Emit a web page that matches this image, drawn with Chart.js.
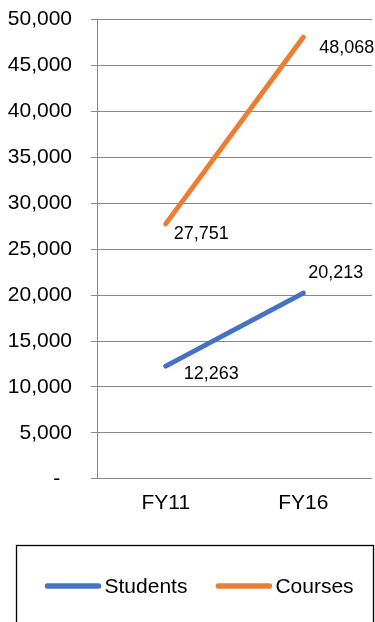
<!DOCTYPE html>
<html>
<head>
<meta charset="utf-8">
<script src="https://cdn.jsdelivr.net/npm/chart.js@4"></script>
<style>
    html, body { margin: 0; padding: 0; background: #fff; }
    #wrap { width: 375px; height: 622px; position: relative; }
</style>
</head>
<body>
<div id="wrap"><canvas id="chart"></canvas></div>
<script>
const years = ['FY11', 'FY16'];
const students = [12263, 20213];
const courses = [27751, 48068];
const yTicks = [0, 5000, 10000, 15000, 20000, 25000, 30000, 35000, 40000, 45000, 50000];
const yTickLabels = ['-\u2007', '5,000', '10,000', '15,000', '20,000', '25,000', '30,000', '35,000', '40,000', '45,000', '50,000'];

const fontFamily = '"Liberation Sans", Arial, sans-serif';

// where each value label sits next to its point (left edge dx, middle dy)
const labelOffsets = [
    [{dx: 18, dy: 8}, {dx: 5, dy: -20.5}],
    [{dx: 8, dy: 10}, {dx: 16, dy: 11}]
];

const valueLabels = {
    id: 'valueLabels',
    afterDatasetsDraw(chart) {
        const ctx = chart.ctx;
        ctx.save();
        ctx.font = '18px ' + fontFamily;
        ctx.fillStyle = '#000';
        ctx.textAlign = 'left';
        ctx.textBaseline = 'middle';
        chart.data.datasets.forEach(function(ds, i) {
            chart.getDatasetMeta(i).data.forEach(function(pt, j) {
                const off = labelOffsets[i][j];
                ctx.fillText(ds.data[j].toLocaleString('en-US'), pt.x + off.dx, pt.y + off.dy);
            });
        });
        ctx.restore();
    }
};

// framed legend under the chart
const boxedLegend = {
    id: 'boxedLegend',
    afterDraw(chart) {
        const ctx = chart.ctx;
        const boxLeft = 16.5;
        const boxTop = chart.height - 76.5;
        const boxRight = chart.width - 1.5;
        ctx.save();
        ctx.strokeStyle = '#000';
        ctx.lineWidth = 1.3;
        ctx.strokeRect(boxLeft, boxTop, boxRight - boxLeft, 100);

        ctx.font = '21px ' + fontFamily;
        ctx.textBaseline = 'middle';
        ctx.textAlign = 'left';
        let x = boxLeft + 28;
        const y = chart.height - 36;
        chart.data.datasets.forEach(function(ds) {
            ctx.strokeStyle = ds.borderColor;
            ctx.lineWidth = 5.5;
            ctx.lineCap = 'round';
            ctx.beginPath();
            ctx.moveTo(x + 3, y);
            ctx.lineTo(x + 54, y);
            ctx.stroke();
            ctx.fillStyle = '#000';
            ctx.fillText(ds.label, x + 60, y + 1);
            x += 60 + ctx.measureText(ds.label).width + 28;
        });
        ctx.restore();
    }
};

const ctx = document.getElementById('chart');
let chart = new Chart(ctx, {
    type: 'line',
    data: {
        labels: years,
        datasets: [
            {
                label: 'Students',
                data: students,
                borderColor: '#4472C4',
                backgroundColor: '#4472C4',
                borderWidth: 5,
                borderCapStyle: 'round',
                pointRadius: 0,
                pointHoverRadius: 0
            },
            {
                label: 'Courses',
                data: courses,
                borderColor: '#ED7D31',
                backgroundColor: '#ED7D31',
                borderWidth: 5,
                borderCapStyle: 'round',
                pointRadius: 0,
                pointHoverRadius: 0
            }
        ]
    },
    options: {
        responsive: true,
        maintainAspectRatio: false,
        animation: false,
        layout: {
            padding: {top: 19.5, right: 3, bottom: 94, left: 0}
        },
        plugins: {
            legend: {display: false},
            tooltip: {enabled: false}
        },
        scales: {
            x: {
                offset: true,
                grid: {display: false, drawTicks: false},
                border: {display: false},
                ticks: {
                    color: '#000',
                    padding: 12,
                    font: {family: fontFamily, size: 21}
                }
            },
            y: {
                min: 0,
                max: 50000,
                afterFit: function(scale) {
                    scale.width = 97;
                    scale.paddingTop = 0;
                    scale.paddingBottom = 0;
                },
                afterBuildTicks: function(scale) {
                    scale.ticks = yTicks.map(function(v) { return {value: v}; });
                },
                grid: {
                    color: '#888',
                    lineWidth: 1,
                    tickLength: 6
                },
                border: {display: true, color: '#888', width: 1},
                ticks: {
                    color: '#000',
                    padding: 19,
                    font: {family: fontFamily, size: 21},
                    callback: function(value) {
                        return yTickLabels[yTicks.indexOf(value)];
                    }
                }
            }
        }
    },
    plugins: [valueLabels, boxedLegend]
});
</script>
</body>
</html>
